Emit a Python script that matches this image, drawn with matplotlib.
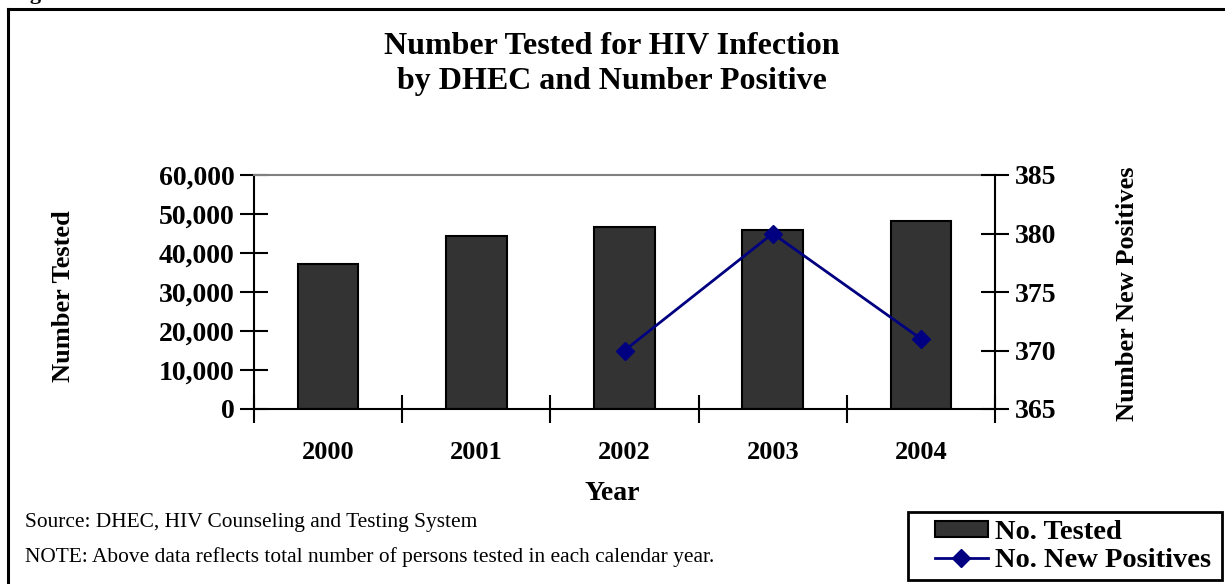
import matplotlib
matplotlib.use("Agg")
import matplotlib.pyplot as plt
from matplotlib.lines import Line2D
from matplotlib.patches import Rectangle

plt.rcParams['font.family'] = ['Liberation Serif', 'DejaVu Serif']

years = ["2000", "2001", "2002", "2003", "2004"]
tested = [37300, 44300, 46700, 45800, 48300]
pos_years = ["2002", "2003", "2004"]
new_positives = [370, 380, 371]
left_ticks = [0, 10000, 20000, 30000, 40000, 50000, 60000]
right_ticks = [365, 370, 375, 380, 385]

W, H = 1225, 584
fig = plt.figure(figsize=(W / 100, H / 100), dpi=100)


def fx(px):
    return px / W


def fy(py):
    return 1 - py / H


ax = fig.add_axes([fx(254), fy(409), fx(995) - fx(254), fy(175) - fy(409)])
xs = list(range(len(years)))
bars = ax.bar(xs, tested, width=0.41, color='#333333', edgecolor='black',
              linewidth=1.5, label='No. Tested', zorder=2)
ax.set_xlim(-0.5, len(years) - 0.5)
ax.set_ylim(0, 60000)
ax.set_yticks(left_ticks)
ax.set_yticklabels([f"{v:,}" for v in left_ticks], fontsize=20, fontweight='bold')
ax.set_xticks(xs)
ax.set_xticklabels(years, fontsize=19, fontweight='bold')
ax.tick_params(axis='x', which='major', length=0, pad=23)
ax.set_xticks([i - 0.5 for i in range(len(years) + 1)], minor=True)
ax.tick_params(axis='x', which='minor', direction='inout', length=20, width=1.5)
ax.tick_params(axis='y', direction='inout', length=20, width=1.5, pad=4)

for s in ('left', 'bottom'):
    ax.spines[s].set_linewidth(1.5)
    ax.spines[s].set_color('black')
ax.spines['right'].set_visible(False)
ax.spines['top'].set_color('#808080')
ax.spines['top'].set_linewidth(1.5)

ax2 = ax.twinx()
pos_x = [years.index(y) for y in pos_years]
line, = ax2.plot(pos_x, new_positives, color='#000080', linewidth=2,
                 marker='D', markersize=9, label='No. New Positives', zorder=3)
ax2.set_ylim(365, 385)
ax2.set_yticks(right_ticks)
ax2.set_yticklabels([str(v) for v in right_ticks], fontsize=20, fontweight='bold')
ax2.tick_params(axis='y', direction='inout', length=20, width=1.5, pad=4)
for s in ('left', 'bottom', 'top'):
    ax2.spines[s].set_visible(False)
ax2.spines['right'].set_linewidth(1.5)
ax2.spines['right'].set_color('black')

# titles and axis labels
fig.text(fx(612), fy(46), "Number Tested for HIV Infection", ha='center', va='center',
         fontsize=23, fontweight='bold')
fig.text(fx(612), fy(81), "by DHEC and Number Positive", ha='center', va='center',
         fontsize=23, fontweight='bold')
fig.text(fx(64), fy(296), "Number Tested", rotation=90, ha='center', va='center',
         fontsize=19, fontweight='bold')
fig.text(fx(1128), fy(294), "Number New Positives", rotation=90, ha='center', va='center',
         fontsize=19, fontweight='bold')
fig.text(fx(612), fy(493), "Year", ha='center', va='center', fontsize=20, fontweight='bold')

# footnotes
fig.text(fx(25), fy(523), "Source: DHEC, HIV Counseling and Testing System",
         ha='left', va='center', fontsize=15.4)
fig.text(fx(25), fy(557), "NOTE: Above data reflects total number of persons tested in each calendar year.",
         ha='left', va='center', fontsize=15.4)

# figure label cut off at the top edge
fig.text(fx(11), fy(-1), "Figure", ha='left', va='baseline', fontsize=16, fontweight='bold')

# outer frame (left and top edges)
fig.add_artist(Line2D([fx(8), fx(8)], [fy(9), fy(H + 5)], color='black', linewidth=2.2,
                      transform=fig.transFigure))
fig.add_artist(Line2D([fx(8), fx(W + 5)], [fy(9), fy(9)], color='black', linewidth=2.2,
                      transform=fig.transFigure))

# legend box and entries
fig.add_artist(Rectangle((fx(908), fy(580)), fx(1222) - fx(908), fy(512) - fy(580),
                         fill=True, facecolor='white', edgecolor='black', linewidth=2,
                         transform=fig.transFigure, zorder=4))
leg = fig.legend(handles=[bars, line], labels=['No. Tested', 'No. New Positives'],
                 loc='upper left', bbox_to_anchor=(fx(935), fy(520)), borderaxespad=0,
                 frameon=False, prop={'weight': 'bold', 'size': 20.5}, handlelength=1.85,
                 handleheight=0.5, handletextpad=0.25, labelspacing=0.1, borderpad=0)
leg.set_zorder(5)

fig.savefig("out.png", dpi=100)
